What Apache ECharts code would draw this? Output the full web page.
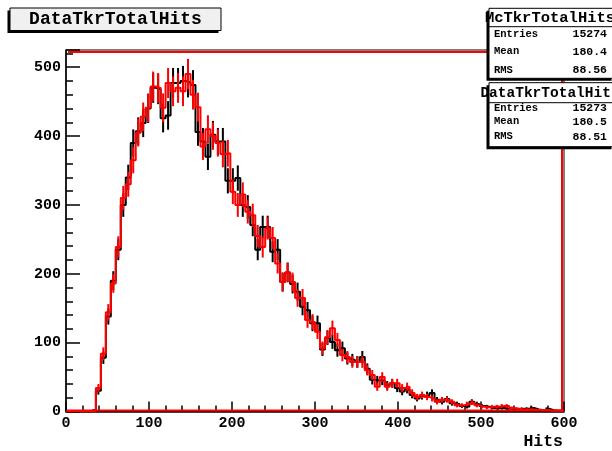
<!DOCTYPE html>
<html><head><meta charset="utf-8">
<script src="https://cdn.jsdelivr.net/npm/echarts@6/dist/echarts.min.js"></script>
<style>html,body{margin:0;padding:0;background:#fff}#c{width:612px;height:451px}</style>
</head><body><div id="c"></div>
<script>
// Histogram binning: 100 bins of width 6 from 0 to 600
const binStart = 0;
const binWidth = 6;

// McTkrTotalHits (red)
const mcCounts = [
  0, 0, 0, 0, 0, 1, 34, 84, 144, 186,
  239, 310, 330, 365, 405, 428, 441, 472, 470, 441,
  477, 465, 470, 465, 490, 460, 442, 385, 410, 400,
  390, 374, 375, 319, 300, 315, 290, 285, 255, 239,
  266, 252, 215, 188, 202, 188, 165, 165, 133, 130,
  116, 92, 108, 121, 104, 82, 79, 72, 72, 72,
  60, 53, 36, 50, 36, 41, 41, 34, 36, 27,
  21, 24, 21, 19, 14, 17, 17, 14, 9, 9,
  11, 13, 9, 7, 6, 7, 7, 8, 8, 5,
  4, 3, 3, 3, 2, 2, 2, 1, 1, 1
];

// DataTkrTotalHits (black)
const dataCounts = [
  0, 0, 0, 0, 0, 2, 30, 78, 138, 190,
  235, 300, 340, 390, 407, 419, 440, 470, 468, 426,
  430, 477, 477, 480, 478, 474, 406, 392, 370, 402,
  392, 392, 335, 335, 339, 300, 297, 271, 235, 268,
  268, 232, 235, 188, 202, 185, 174, 152, 147, 128,
  128, 90, 107, 101, 89, 92, 77, 75, 72, 79,
  62, 46, 45, 45, 38, 41, 34, 29, 32, 24,
  19, 22, 24, 27, 17, 14, 18, 12, 11, 8,
  7, 14, 11, 8, 7, 5, 5, 5, 4, 4,
  3, 4, 4, 5, 3, 2, 4, 2, 1, 1
];

const xTickLabels = [0, 100, 200, 300, 400, 500, 600];
const yTickLabels = [0, 100, 200, 300, 400, 500];

const mcStats = { name: 'McTkrTotalHits', entries: '15274', mean: '180.4', rms: '88.56' };
const dataStats = { name: 'DataTkrTotalHits', entries: '15273', mean: '180.5', rms: '88.51' };

const xMin = 0, xMax = 600, yMax = 525;
const FONT = '"Liberation Mono", "Courier New", monospace';

function stepPoints(counts) {
  const pts = [];
  counts.forEach((v, i) => {
    const lo = binStart + i * binWidth;
    pts.push([lo, v], [lo + binWidth, v]);
  });
  return pts;
}
function errPoints(counts) {
  const pts = [];
  counts.forEach((v, i) => {
    if (v > 0) {
      const c = binStart + (i + 0.5) * binWidth;
      const e = Math.sqrt(v);
      pts.push([c, v - e, v + e]);
    }
  });
  return pts;
}
function errSeries(counts, color, z) {
  return {
    type: 'custom', z: z, silent: true,
    encode: { x: 0, y: [1, 2] },
    data: errPoints(counts),
    renderItem(params, api) {
      const p1 = api.coord([api.value(0), api.value(1)]);
      const p2 = api.coord([api.value(0), api.value(2)]);
      return { type: 'line', shape: { x1: p1[0], y1: p1[1], x2: p2[0], y2: p2[1] },
               style: { stroke: color, lineWidth: 2 } };
    }
  };
}
function stepSeries(counts, color, z) {
  return {
    type: 'line', z: z, silent: true, showSymbol: false, symbol: 'none',
    data: stepPoints(counts),
    lineStyle: { color: color, width: 2 }
  };
}

const chart = echarts.init(document.getElementById('c'), null, { renderer: 'canvas' });
chart.setOption({
  animation: false,
  backgroundColor: '#fff',
  grid: { left: 66, right: 48, top: 50, bottom: 39.5, show: true, borderColor: '#000', borderWidth: 1, backgroundColor: 'transparent' },
  xAxis: [{
    type: 'value', min: xMin, max: xMax, interval: 100,
    axisLine: { show: true, lineStyle: { color: '#000', width: 1.5 } },
    axisTick: { show: true, inside: true, length: 10, lineStyle: { color: '#000', width: 1.5 } },
    minorTick: { show: true, splitNumber: 5, length: 6, lineStyle: { color: '#000', width: 1.5 } },
    splitLine: { show: false },
    axisLabel: { margin: 4, color: '#000', fontFamily: FONT, fontWeight: 'bold', fontSize: 15,
      formatter: v => xTickLabels.includes(v) ? String(v) : '' }
  }],
  yAxis: [{
    type: 'value', min: 0, max: yMax, interval: 100,
    axisLine: { show: true, lineStyle: { color: '#000', width: 1.5 } },
    axisTick: { show: true, inside: true, length: 14, lineStyle: { color: '#000', width: 1.5 } },
    splitLine: { show: false },
    axisLabel: { margin: 5, color: '#000', fontFamily: FONT, fontWeight: 'bold', fontSize: 15,
      formatter: v => yTickLabels.includes(v) ? String(v) : '' }
  }, {
    type: 'value', min: 0, max: yMax, interval: 20, position: 'left',
    axisLine: { show: false },
    axisTick: { show: true, inside: true, length: 7, lineStyle: { color: '#000', width: 1.5 } },
    splitLine: { show: false },
    axisLabel: { show: false }
  }],
  series: [
    stepSeries(dataCounts, '#000', 2),
    errSeries(dataCounts, '#000', 2),
    stepSeries(mcCounts, '#ff0000', 3),
    errSeries(mcCounts, '#ff0000', 3)
  ]
});

// red inner frame via the chart's own scales
const tl = chart.convertToPixel({ gridIndex: 0 }, [xMin, yMax]);
const br = chart.convertToPixel({ gridIndex: 0 }, [xMax, 0]);

function statBox(st, top, h, sepY, rowYs, titleSize) {
  const left = 489, right = 614;
  const els = [
    { type: 'rect', z: 100, shape: { x: left - 2.5, y: top + 2.5, width: right - left, height: h }, style: { fill: '#000' } },
    { type: 'rect', z: 101, shape: { x: left, y: top, width: right - left, height: h }, style: { fill: '#fff', stroke: '#000', lineWidth: 1 } },
    { type: 'line', z: 102, shape: { x1: left, y1: sepY, x2: right, y2: sepY }, style: { stroke: '#000', lineWidth: 1 } },
    { type: 'text', z: 103, x: 550, y: (top + sepY) / 2 + 0.5, style: { text: st.name, fill: '#000', font: 'bold ' + titleSize + 'px ' + FONT, align: 'center', verticalAlign: 'middle' } }
  ];
  const labels = ['Entries', 'Mean', 'RMS'];
  const vals = [st.entries, st.mean, st.rms];
  labels.forEach((lb, i) => {
    els.push({ type: 'text', z: 103, x: 494, y: rowYs[i], style: { text: lb, fill: '#000', font: 'bold 10.5px ' + FONT, align: 'left', verticalAlign: 'middle' } });
    els.push({ type: 'text', z: 103, x: 607, y: rowYs[i], style: { text: vals[i], fill: '#000', font: 'bold 11.5px ' + FONT, align: 'right', verticalAlign: 'middle' } });
  });
  return els;
}

const graphics = [
  { type: 'polyline', z: 50, silent: true,
    shape: { points: [[tl[0] + 2, tl[1] + 2], [br[0] - 2, tl[1] + 2], [br[0] - 2, br[1] - 1], [tl[0] + 1, br[1] - 1]] },
    style: { stroke: '#ff0000', lineWidth: 2, fill: null } },
  // title box
  { type: 'rect', z: 100, shape: { x: 7.5, y: 10.5, width: 211, height: 22.5 }, style: { fill: '#000' } },
  { type: 'rect', z: 101, shape: { x: 10, y: 8, width: 211, height: 22.5 }, style: { fill: '#f0f0f0', stroke: '#000', lineWidth: 1 } },
  { type: 'text', z: 102, x: 115.5, y: 19.8, style: { text: 'DataTkrTotalHits', fill: '#000', font: 'bold 18px ' + FONT, align: 'center', verticalAlign: 'middle' } },
  // axis title
  { type: 'text', z: 102, x: 563, y: 442, style: { text: 'Hits', fill: '#000', font: 'bold 16.5px ' + FONT, align: 'right', verticalAlign: 'middle' } }
].concat(
  statBox(mcStats, 8.3, 70, 26.7, [34, 51.7, 70], 15.5),
  statBox(dataStats, 82.7, 64, 102.7, [108.3, 121.7, 136.7], 14.5)
);
chart.setOption({ graphic: graphics });
</script>
</body></html>
